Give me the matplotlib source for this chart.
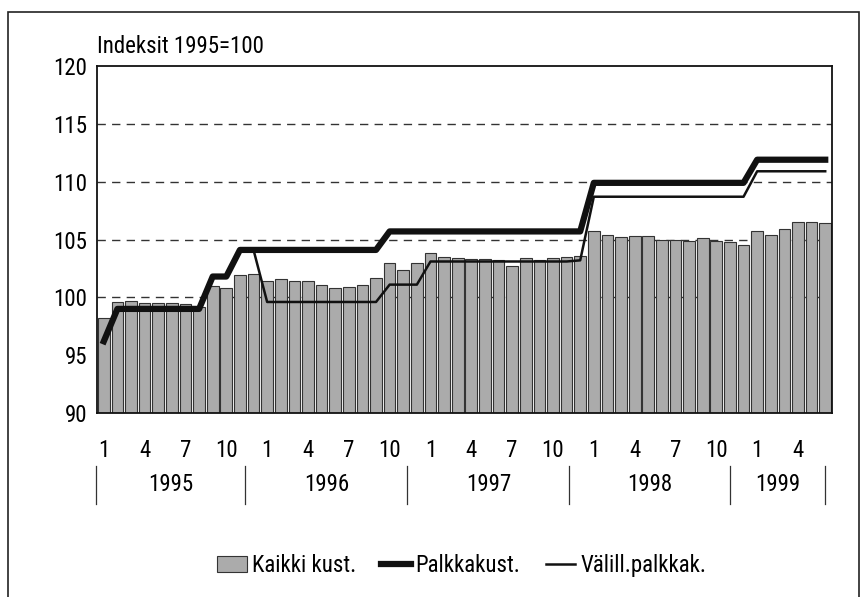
import numpy as np
import matplotlib
matplotlib.use("Agg")
import matplotlib.pyplot as plt
from matplotlib import font_manager
from matplotlib.patches import Rectangle
from matplotlib.lines import Line2D

installed = {f.name for f in font_manager.fontManager.ttflist}
narrow = [n for n in ["Liberation Sans Narrow", "DejaVu Sans Condensed",
                      "Roboto Condensed", "Liberation Sans"] if n in installed]
plt.rcParams["font.family"] = narrow[:1] + ["DejaVu Sans"]
plt.rcParams["font.stretch"] = "condensed"

# Monthly data, Jan 1995 - Jun 1999 (index 1995=100)
kaikki_kust = [
    98.2, 99.6, 99.7, 99.5, 99.5, 99.5, 99.4, 99.2, 101.0, 100.8, 101.9, 102.0,
    101.4, 101.6, 101.4, 101.4, 101.1, 100.8, 100.9, 101.1, 101.7, 103.0, 102.4, 103.0,
    103.8, 103.5, 103.4, 103.3, 103.3, 103.2, 102.7, 103.4, 103.2, 103.4, 103.5, 103.6,
    105.7, 105.4, 105.2, 105.3, 105.3, 105.0, 105.0, 104.9, 105.1, 104.9, 104.8, 104.5,
    105.7, 105.4, 105.9, 106.5, 106.5, 106.4,
]
palkkakust = [
    96.2, 99.0, 99.0, 99.0, 99.0, 99.0, 99.0, 99.0, 101.8, 101.8, 104.1, 104.1,
    104.1, 104.1, 104.1, 104.1, 104.1, 104.1, 104.1, 104.1, 104.1, 105.7, 105.7, 105.7,
    105.7, 105.7, 105.7, 105.7, 105.7, 105.7, 105.7, 105.7, 105.7, 105.7, 105.7, 105.7,
    109.9, 109.9, 109.9, 109.9, 109.9, 109.9, 109.9, 109.9, 109.9, 109.9, 109.9, 109.9,
    111.9, 111.9, 111.9, 111.9, 111.9, 111.9,
]
valill_palkkak = [
    96.2, 99.0, 99.0, 99.0, 99.0, 99.0, 99.0, 99.0, 101.8, 101.8, 104.1, 104.1,
    99.6, 99.6, 99.6, 99.6, 99.6, 99.6, 99.6, 99.6, 99.6, 101.1, 101.1, 101.1,
    103.1, 103.1, 103.1, 103.1, 103.1, 103.1, 103.1, 103.1, 103.1, 103.1, 103.1, 103.2,
    108.7, 108.7, 108.7, 108.7, 108.7, 108.7, 108.7, 108.7, 108.7, 108.7, 108.7, 108.7,
    110.9, 110.9, 110.9, 110.9, 110.9, 110.9,
]
month_labels = ["1", "4", "7", "10"] * 4 + ["1", "4"]
years = ["1995", "1996", "1997", "1998", "1999"]
year_separators = [-0.57, 10.4, 22.3, 34.2, 46.0, 53.0]

FS = 16.5
x = np.arange(len(kaikki_kust))

fig = plt.figure(figsize=(8.63, 5.97), dpi=100)
ax = fig.add_axes([0.1124, 0.3082, 0.8517, 0.5812])

ax.bar(x, np.array(kaikki_kust) - 90, bottom=90, width=0.86,
       color="#ababab", edgecolor="#333333", linewidth=0.8, zorder=2)
ax.plot(x, palkkakust, color="#111111", linewidth=4.5, zorder=4)
ax.plot(x, valill_palkkak, color="#111111", linewidth=1.8, zorder=5)

for yv in [100, 105, 110, 115]:
    ax.axhline(yv, color="#333333", linestyle=(0, (6, 4.5)), linewidth=1.0, zorder=1)

ax.set_xlim(-0.5, len(x) - 0.5)
ax.set_ylim(90, 120)
ax.set_yticks(range(90, 121, 5))
ax.tick_params(axis="y", length=0, labelsize=FS, pad=7)
ax.set_xticks([])
for s in ax.spines.values():
    s.set_linewidth(1.3)
    s.set_color("#111111")

# month labels
for i, lab in zip(range(0, len(x), 3), month_labels):
    ax.text(i, 86.8, lab, ha="center", va="center", fontsize=FS, clip_on=False)

# year labels and separators
for k, yr in enumerate(years):
    mid = (year_separators[k] + year_separators[k + 1]) / 2
    ax.text(mid, 83.8, yr, ha="center", va="center", fontsize=FS, clip_on=False)
for sx in year_separators:
    ax.plot([sx, sx], [85.4, 82.1], color="#333333", linewidth=0.9, clip_on=False)

ax.text(-0.5, 120.7, "Indeksit 1995=100", ha="left", va="bottom", fontsize=FS)

# legend
handles = [
    Rectangle((0, 0), 1, 1, facecolor="#ababab", edgecolor="#333333", linewidth=0.8),
    Line2D([], [], color="#111111", linewidth=4.5),
    Line2D([], [], color="#111111", linewidth=1.8),
]
fig.legend(handles, ["Kaikki kust.", "Palkkakust.", "Välill.palkkak."],
           loc="center", bbox_to_anchor=(0.535, 0.052), ncol=3, frameon=False,
           fontsize=FS, handlelength=1.3, handletextpad=0.2, columnspacing=1.1)

# outer frame
fig.patches.append(Rectangle((8 / 863, -0.01), 851 / 863, 1 - 12 / 597 + 0.01,
                             transform=fig.transFigure, fill=False,
                             edgecolor="#222222", linewidth=1.2))

fig.savefig("out.png", dpi=100)
